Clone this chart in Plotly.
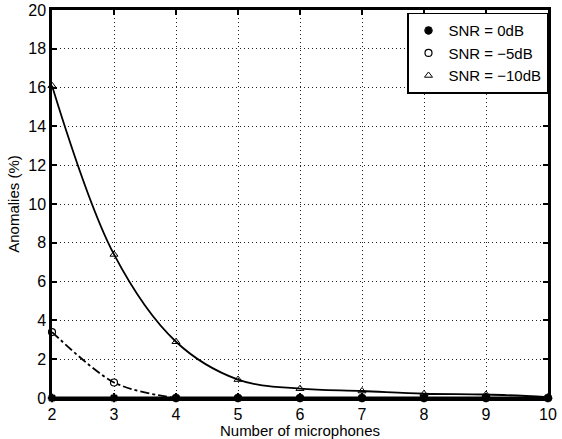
import plotly.graph_objects as go

mics = [2, 3, 4, 5, 6, 7, 8, 9, 10]
snr_0db = [0, 0, 0, 0, 0, 0, 0, 0, 0]
snr_m5db = [3.4, 0.8, 0, 0, 0, 0, 0, 0, 0]
snr_m10db = [16.1, 7.4, 2.9, 0.95, 0.48, 0.36, 0.22, 0.18, 0.05]
x_ticks = [2, 3, 4, 5, 6, 7, 8, 9, 10]
y_ticks = [0, 2, 4, 6, 8, 10, 12, 14, 16, 18, 20]

fig = go.Figure()

# curves (lines only)
fig.add_trace(go.Scatter(x=mics, y=snr_m10db, mode="lines", line=dict(color="black", width=1.8, shape="spline", smoothing=1.0), showlegend=False, hoverinfo="skip", cliponaxis=False))
fig.add_trace(go.Scatter(x=mics, y=snr_m5db, mode="lines", line=dict(color="black", width=1.8, dash="dashdot", shape="spline", smoothing=0.8), showlegend=False, hoverinfo="skip"))
fig.add_trace(go.Scatter(x=mics, y=snr_0db, mode="lines", line=dict(color="black", width=3), showlegend=False, hoverinfo="skip", cliponaxis=False))

# markers (legend entries)
fig.add_trace(go.Scatter(x=mics, y=snr_0db, mode="markers", name="SNR = 0dB", cliponaxis=False,
                         marker=dict(symbol="asterisk-open", size=7, color="black", line=dict(color="black", width=2.5))))
fig.add_trace(go.Scatter(x=mics, y=snr_m5db, mode="markers", name="SNR = \u22125dB", cliponaxis=False,
                         marker=dict(symbol="circle-open", size=7, color="black", line=dict(color="black", width=1.2))))
fig.add_trace(go.Scatter(x=mics, y=snr_m10db, mode="markers", name="SNR = \u221210dB", cliponaxis=False,
                         marker=dict(symbol="triangle-up-open", size=7, color="black", line=dict(color="black", width=1))))

axis_common = dict(
    showline=True, linecolor="black", linewidth=2.5, mirror="ticks",
    ticks="inside", ticklen=5, tickwidth=1.5, tickcolor="black",
    showgrid=True, gridcolor="#222", gridwidth=1, griddash="1px,3px",
    zeroline=False, tickfont=dict(size=16, color="black"), automargin=False,
)

fig.update_xaxes(range=[2, 10], tickvals=x_ticks, ticktext=[str(v) for v in x_ticks],
                 title=dict(text="Number of microphones", font=dict(size=15, color="black"), standoff=1),
                 **axis_common)
fig.update_yaxes(range=[0, 20], tickvals=y_ticks, ticktext=[str(v) for v in y_ticks],
                 title=dict(text="Anomalies (%)", font=dict(size=15, color="black"), standoff=6),
                 **axis_common)

fig.update_layout(
    width=562, height=439,
    margin=dict(l=52, r=14, t=10, b=41),
    paper_bgcolor="white", plot_bgcolor="white",
    font=dict(family="Liberation Sans, Arial, sans-serif", color="black"),
    legend=dict(x=1, y=0.993, xanchor="right", yanchor="top", bgcolor="white",
                bordercolor="black", borderwidth=1.5, font=dict(size=15, color="black"),
                tracegroupgap=0, itemwidth=30),
    showlegend=True,
)

fig.write_html("out.html", config={"displayModeBar": False},
               post_script="document.body.style.margin='0';")
